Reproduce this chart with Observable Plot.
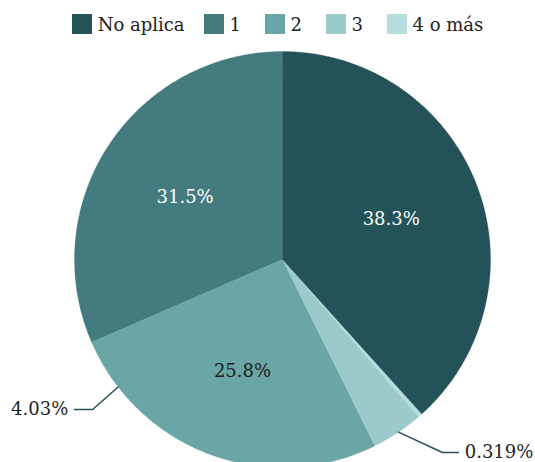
<!DOCTYPE html>
<html>
<head>
<meta charset="utf-8">
<script src="https://cdn.jsdelivr.net/npm/d3@7"></script>
<script src="https://cdn.jsdelivr.net/npm/@observablehq/plot@0.6"></script>
<style>
  html, body { margin: 0; padding: 0; background: #fff; overflow: hidden; }
  body { width: 535px; height: 462px; font-family: "DejaVu Serif", serif; }
  #legend { height: 44px; box-sizing: border-box; padding-top: 5px; padding-left: 20px; }
  #legend .leg-swatches { display: flex; justify-content: center; align-items: center; margin: 0; min-height: 38px;
    font-family: "DejaVu Serif", serif; font-size: 18px; color: #222; }
  #legend .leg-swatch { margin-right: 19px; min-width: 42px; }
  #legend .leg-swatch:last-child { margin-right: 0; }
  #legend .leg-swatch > svg { margin-right: 6px; }
  #chart svg { display: block; overflow: visible; }
</style>
</head>
<body>
<div id="legend"></div>
<div id="chart"></div>
<script>
// ---- data ----
const categories = ["No aplica", "1", "2", "3", "4 o más"];
const percentages = [38.3, 31.5, 25.8, 4.03, 0.319];
const labels = ["38.3%", "31.5%", "25.8%", "4.03%", "0.319%"];
const colors = ["#235259", "#437b7e", "#6aa6a6", "#9ccaca", "#b7dcdc"];
// slices are laid out counterclockwise from 12 o'clock in this order
const sliceOrder = ["1", "2", "3", "4 o más", "No aplica"];

// ---- pie geometry (in data units, radius 1) ----
const total = d3.sum(percentages);
const valueOf = c => percentages[categories.indexOf(c)];
const pt = (theta, r) => ({x: -r * Math.sin(theta), y: r * Math.cos(theta)});
let acc = 0;
const slices = sliceOrder.map(cat => {
  const a0 = acc / total * 2 * Math.PI;
  acc += valueOf(cat);
  const a1 = acc / total * 2 * Math.PI;
  return {cat, a0, a1, mid: (a0 + a1) / 2, pct: valueOf(cat), label: labels[categories.indexOf(cat)], color: colors[categories.indexOf(cat)]};
});
const polys = [];
for (const s of slices) {
  polys.push({cat: s.cat, ...pt(0, 0)});
  const n = Math.max(2, Math.ceil((s.a1 - s.a0) / (Math.PI / 360)));
  for (let i = 0; i <= n; ++i) polys.push({cat: s.cat, ...pt(s.a0 + (s.a1 - s.a0) * i / n, 1)});
  polys.push({cat: s.cat, ...pt(0, 0)});
}
const inside = slices.filter(s => s.pct >= 5).map(s => ({
  ...s, ...pt(s.mid, 0.56), dark: d3.lab(s.color).l > 58
}));
// outside labels with leader lines (layout of annotations)
const outsideLayout = [
  {cat: "3", anchorDeg: 127.8, elbow: [-0.913, -0.721], end: [-1.0, -0.721], side: -1},
  {cat: "4 o más", anchorDeg: 213.9, elbow: [0.769, -0.928], end: [0.846, -0.928], side: 1}
];
const leaders = [];
const outsideText = [];
for (const o of outsideLayout) {
  const a = pt(o.anchorDeg * Math.PI / 180, 1);
  leaders.push({id: o.cat, x: a.x, y: a.y}, {id: o.cat, x: o.elbow[0], y: o.elbow[1]}, {id: o.cat, x: o.end[0], y: o.end[1]});
  outsideText.push({x: o.end[0] + o.side * 0.03, y: o.end[1], side: o.side, label: labels[categories.indexOf(o.cat)]});
}

const R = 208, cx = 282, cy = 259 - 44;
const chart = Plot.plot({
  width: 535,
  height: 462 - 44,
  margin: 0,
  x: {domain: [-1, 1], range: [cx - R, cx + R], axis: null},
  y: {domain: [-1, 1], range: [cy + R, cy - R], axis: null},
  color: {domain: categories, range: colors},
  style: {fontFamily: "DejaVu Serif, serif", overflow: "visible"},
  marks: [
    Plot.line(polys, {x: "x", y: "y", z: "cat", fill: "cat", stroke: "cat", strokeWidth: 0.3, curve: "linear"}),
    Plot.text(inside, {x: "x", y: "y", dy: 2, text: "label", fill: d => d.dark ? "#1e1e1e" : "#ffffff", fontSize: 18}),
    Plot.line(leaders, {x: "x", y: "y", z: "id", stroke: "#2b4f58", strokeWidth: 1.5}),
    Plot.text(outsideText.filter(d => d.side < 0), {x: "x", y: "y", text: "label", textAnchor: "end", fill: "#1e1e1e", fontSize: 18}),
    Plot.text(outsideText.filter(d => d.side > 0), {x: "x", y: "y", text: "label", textAnchor: "start", fill: "#1e1e1e", fontSize: 18})
  ]
});
document.getElementById("chart").appendChild(chart);

const legend = Plot.legend({
  color: {domain: categories, range: colors},
  legend: "swatches",
  swatchSize: 20,
  className: "leg"
});
document.getElementById("legend").appendChild(legend);
</script>
</body>
</html>
